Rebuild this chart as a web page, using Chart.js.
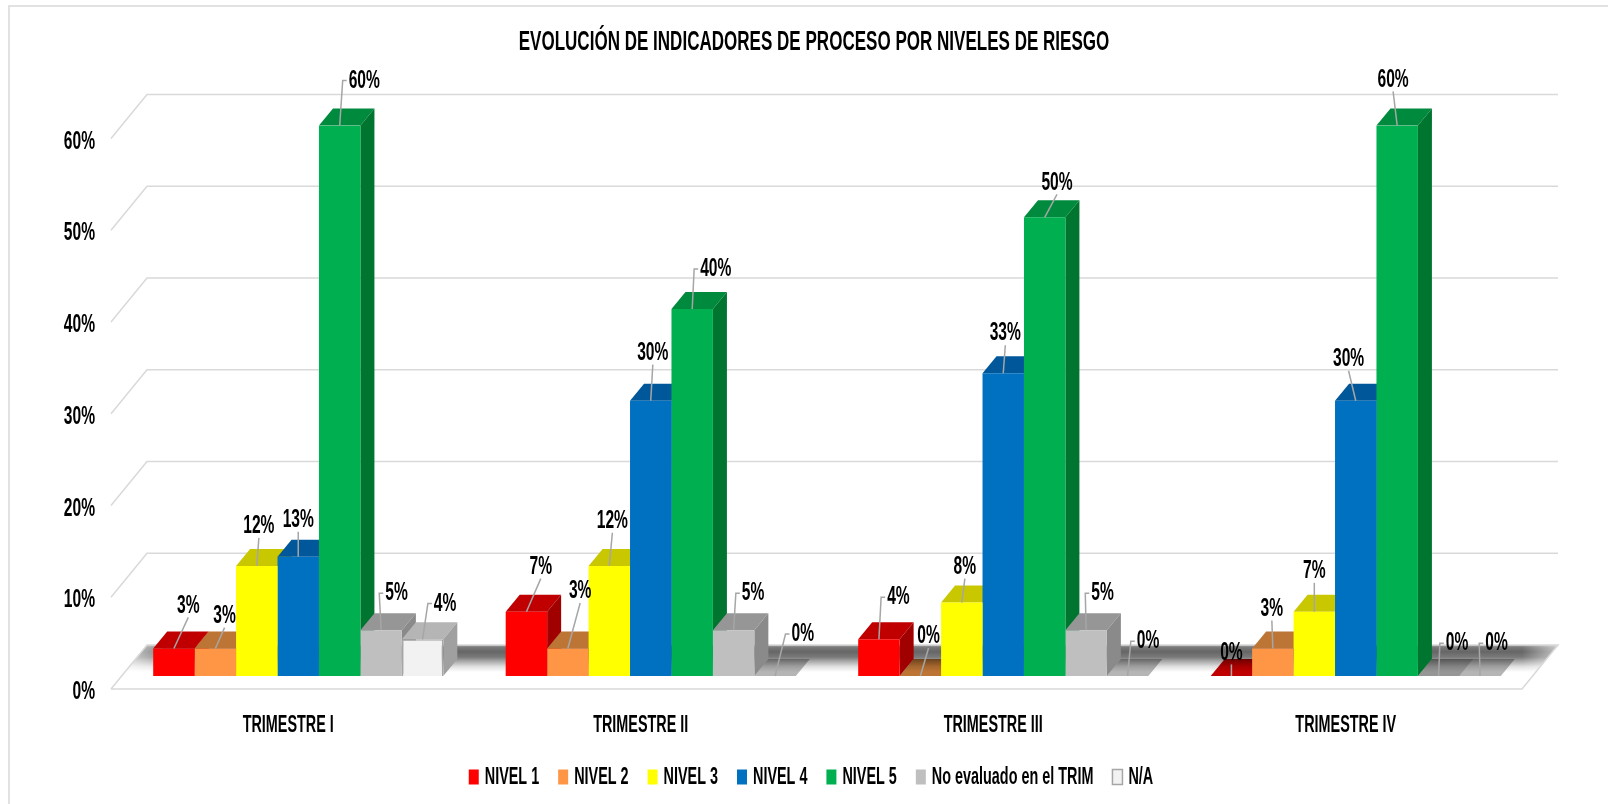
<!DOCTYPE html>
<html>
<head>
<meta charset="utf-8">
<script src="https://cdn.jsdelivr.net/npm/chart.js@4"></script>
<style>html,body{margin:0;padding:0;background:#fff}canvas{display:block}</style>
</head>
<body>
<canvas id="c" width="1608" height="804"></canvas>
<script>
const categories = ['TRIMESTRE I','TRIMESTRE II','TRIMESTRE III','TRIMESTRE IV'];
const nivel1 = [3,7,4,0];
const nivel2 = [3,3,0,3];
const nivel3 = [12,12,8,7];
const nivel4 = [13,30,33,30];
const nivel5 = [60,40,50,60];
const noEvaluado = [5,5,5,0];
const na = [4,0,0,0];
const seriesNames = ['NIVEL 1','NIVEL 2','NIVEL 3','NIVEL 4','NIVEL 5','No evaluado en el TRIM','N/A'];
const seriesValues = [nivel1,nivel2,nivel3,nivel4,nivel5,noEvaluado,na];
const frontColors = ['#FF0000','#FF9646','#FFFF00','#0070C0','#00B050','#BFBFBF','#F2F2F2'];
const topColors = ['#C00000','#BD7535','#C9C700','#00589A','#008A3E','#969696','#B5B5B5'];
const sideColors = ['#A00000','#A5622A','#A8A600','#004A82','#00752F','#8A8A8A','#A0A0A0'];
const yTicks = [0,10,20,30,40,50,60];

// label offsets from the top-centre of each bar: [dx, dy] per series, per quarter
const labelOffsets = [
 [[14,-42],[14,-44],[19,-41],[0,-23]],
 [[9,-32],[12,-56],[8,-39],[-1,-39]],
 [[2,-39],[3,-44],[3,-35],[0,-40]],
 [[0,-36],[2,-47],[2,-39],[-7,-41]],
 [[24,-44],[23,-39],[12,-34],[-4,-45]],
 [[15,-36],[19,-36],[16,-36],[18,-32]],
 [[22,-35],[27,-41],[20,-34],[16,-32]]
];
const K = 1.0255;
const DEPTH_X = 14, DEPTH_Y = 17;
const BACK_UP = 31, FRONT_DOWN = 13, WALL_IN = 25, WALL_OUT = 11;
const FONT = '"Liberation Sans",sans-serif';
const SQUEEZE = .6, LEGEND_GAP_FIX = 6;

// All text in the reference is a tall condensed face: squeeze it horizontally.
const canvas = document.getElementById('c');
const ctx0 = canvas.getContext('2d');
const origFill = ctx0.fillText.bind(ctx0), origMeasure = ctx0.measureText.bind(ctx0);
ctx0.fillText = function(t,x,y){
  if(seriesNames.includes(t)) x -= LEGEND_GAP_FIX;
  ctx0.save(); ctx0.translate(x,y); ctx0.scale(SQUEEZE,1); origFill(t,0,0); ctx0.restore();
};
ctx0.measureText = function(t){
  const m = origMeasure(t);
  return {width:m.width*SQUEEZE, actualBoundingBoxAscent:m.actualBoundingBoxAscent, actualBoundingBoxDescent:m.actualBoundingBoxDescent};
};

const scene = {
  id:'scene',
  beforeDatasetsDraw(chart){
    const c = chart.ctx, y = chart.scales.y, a = chart.chartArea;
    const l = a.left, r = a.right;
    const y0 = y.getPixelForValue(0);
    c.save();
    // floor shading
    const bt = y0-BACK_UP, bb = y0-4;
    c.save();
    c.beginPath();
    c.moveTo(l+WALL_IN,bt); c.lineTo(r+26,bt); c.lineTo(r+4,bb); c.lineTo(l+3,bb); c.closePath();
    c.clip();
    const g = c.createLinearGradient(0,bt,0,bb);
    g.addColorStop(0,'#a0a0a0'); g.addColorStop(.1,'#777777'); g.addColorStop(.25,'#666666');
    g.addColorStop(.45,'#7a7a7a'); g.addColorStop(.6,'#a8a8a8'); g.addColorStop(.8,'#e0e0e0'); g.addColorStop(1,'#ffffff');
    c.fillStyle = g; c.fillRect(l,bt,r-l+30,bb-bt);
    const fl = c.createLinearGradient(l,0,l+40,0);
    fl.addColorStop(0,'rgba(255,255,255,.75)'); fl.addColorStop(1,'rgba(255,255,255,.2)');
    c.fillStyle = fl; c.fillRect(l,bt,40,bb-bt);
    const fr = c.createLinearGradient(r-10,0,r+26,0);
    fr.addColorStop(0,'rgba(255,255,255,0)'); fr.addColorStop(1,'rgba(255,255,255,.6)');
    c.fillStyle = fr; c.fillRect(r-10,bt,40,bb-bt);
    c.restore();
    // frame
    c.strokeStyle = '#D9D9D9'; c.lineWidth = 1.5;
    c.beginPath(); c.moveTo(9,804); c.lineTo(9,6); c.lineTo(1608,6); c.stroke();
    // walls + gridlines
    yTicks.forEach(v=>{
      const p = y.getPixelForValue(v);
      c.beginPath();
      c.moveTo(l-WALL_OUT,p+FRONT_DOWN);
      c.lineTo(l+WALL_IN,p-BACK_UP);
      c.lineTo(r+26,p-BACK_UP);
      if(v===0){ c.lineTo(r-10,p+FRONT_DOWN); c.lineTo(l-WALL_OUT,p+FRONT_DOWN); }
      c.stroke();
    });
    // bar top and side faces
    for(let j=0;j<categories.length;j++){
      seriesValues.forEach((vals,i)=>{
        const b = chart.getDatasetMeta(i).data[j];
        const x0 = b.x-b.width/2, x1 = b.x+b.width/2, t = b.y, bot = b.base;
        c.globalCompositeOperation = vals[j]===0 ? 'multiply' : 'source-over';
        c.fillStyle = topColors[i];
        c.beginPath(); c.moveTo(x0,t); c.lineTo(x0+DEPTH_X,t-DEPTH_Y); c.lineTo(x1+DEPTH_X,t-DEPTH_Y); c.lineTo(x1,t); c.closePath(); c.fill();
        c.globalCompositeOperation = 'source-over';
        if(vals[j]>0){
          c.fillStyle = sideColors[i];
          c.beginPath(); c.moveTo(x1,t); c.lineTo(x1+DEPTH_X,t-DEPTH_Y); c.lineTo(x1+DEPTH_X,bot-DEPTH_Y); c.lineTo(x1,bot); c.closePath(); c.fill();
        }
      });
    }
    c.restore();
  },
  afterDatasetsDraw(chart){
    const c = chart.ctx;
    c.save();
    c.textAlign = 'center'; c.textBaseline = 'middle';
    c.font = 'bold 26px '+FONT;
    for(let j=0;j<categories.length;j++){
      seriesValues.forEach((vals,i)=>{
        const b = chart.getDatasetMeta(i).data[j];
        const o = labelOffsets[i][j];
        const lx = b.x+o[0]*K, ly = b.y+o[1]*K;
        const txt = vals[j]+'%';
        const w = c.measureText(txt).width;
        c.strokeStyle = '#A6A6A6'; c.lineWidth = 1.5;
        c.beginPath();
        c.moveTo(b.x,b.y);
        if(Math.abs(o[0])>=15){
          c.lineTo(lx-w/2-6,ly); c.lineTo(lx-w/2-2,ly);
        } else {
          c.lineTo(lx,ly+12);
        }
        c.stroke();
        c.fillStyle = '#000';
        c.fillText(txt,lx,ly);
      });
    }
    c.restore();
  }
};

new Chart(canvas,{
  type:'bar',
  data:{
    labels:categories,
    datasets:seriesNames.map((n,i)=>({
      label:n,
      data:seriesValues[i],
      backgroundColor:frontColors[i],
      borderColor:i===6?'#A6A6A6':frontColors[i],
      borderWidth:i===6?1.5:0,
      categoryPercentage:.823,
      barPercentage:1
    }))
  },
  options:{
    responsive:false,
    animation:false,
    devicePixelRatio:1,
    layout:{padding:{left:20,right:0,top:0,bottom:5}},
    plugins:{
      title:{display:true,text:'EVOLUCIÓN DE INDICADORES DE PROCESO POR NIVELES DE RIESGO',
        color:'#000',font:{family:FONT,size:28.4,weight:'bold'},padding:{top:25,bottom:66.5}},
      legend:{position:'bottom',
        labels:{color:'#000',font:{family:FONT,size:24,weight:'bold'},boxWidth:10,boxHeight:15,padding:13}},
      tooltip:{enabled:false}
    },
    scales:{
      x:{
        grid:{display:false},border:{display:false},
        ticks:{color:'#000',font:{family:FONT,size:24,weight:'bold'},padding:27,labelOffset:-10,maxRotation:0},
        afterFit(s){s.height=76;}
      },
      y:{
        min:0,max:60,
        grid:{display:false},border:{display:false},
        ticks:{color:'#000',stepSize:10,font:{family:FONT,size:26,weight:'bold'},padding:19,labelOffset:16,callback:v=>v+'%'},
        afterFit(s){s.width=102;}
      },
      y2:{
        position:'right',min:0,max:60,
        grid:{display:false},border:{display:false},
        ticks:{display:false},
        afterFit(s){s.width=76;}
      }
    }
  },
  plugins:[scene]
});
</script>
</body>
</html>
